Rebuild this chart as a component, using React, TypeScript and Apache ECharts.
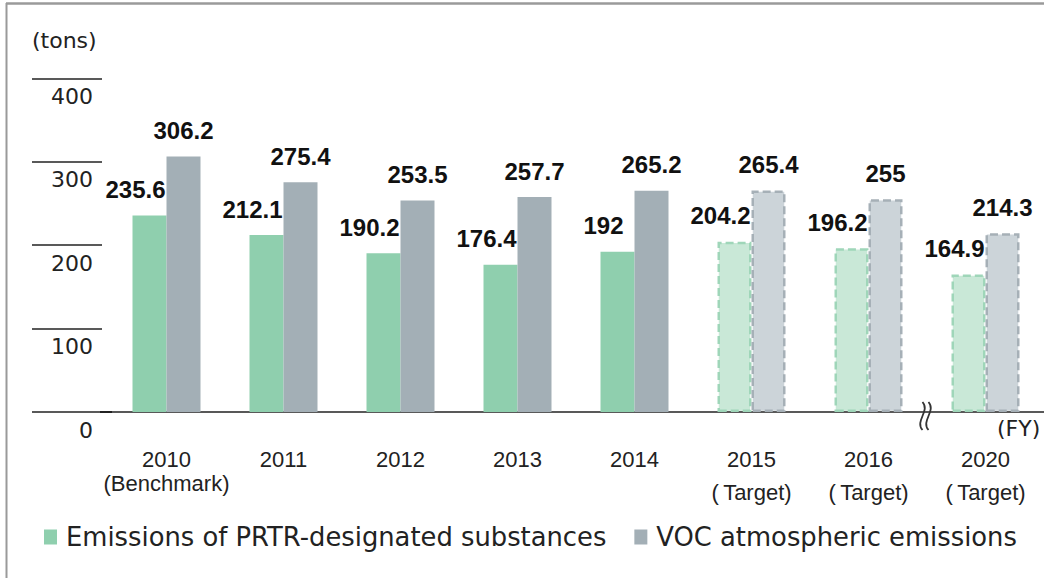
import React, { useEffect, useRef } from 'react';
import * as echarts from 'echarts';

const categories = ['2010', '2011', '2012', '2013', '2014', '2015', '2016', '2020'];
const subLabels = ['(Benchmark)', '', '', '', '', '(\u2009Target)', '(\u2009Target)', '(\u2009Target)'];
const isTarget = [false, false, false, false, false, true, true, true];
const prtr = [235.6, 212.1, 190.2, 176.4, 192, 204.2, 196.2, 164.9];
const voc = [306.2, 275.4, 253.5, 257.7, 265.2, 265.4, 255, 214.3];
const seriesNames = ['Emissions of PRTR-designated substances', 'VOC atmospheric emissions'];
const yMin = 0;
const yMax = 400;
const yStep = 100;
const unitLabel = '(tons)';
const xUnitLabel = '(FY)';

const GREEN = '#8fcfae';
const GREEN_LIGHT = '#c9e8d7';
const GREEN_DASH = '#9fd6b9';
const GRAY = '#a3afb6';
const GRAY_LIGHT = '#ccd4d9';
const GRAY_DASH = '#a6b0b7';
const INK = '#222';

export default function App() {
  const ref = useRef<HTMLDivElement>(null);

  useEffect(() => {
    document.body.style.margin = '0';
    const chart = echarts.init(ref.current!, null, { renderer: 'svg' });

    const labelStyle = {
      show: true,
      position: 'top',
      distance: 14,
      fontFamily: 'Liberation Sans',
      fontWeight: 'bold',
      fontSize: 24,
      color: '#111',
    };

    chart.setOption({
      animation: false,
      grid: { left: 108, top: 78.3, width: 938.7, bottom: 166 },
      legend: {
        left: 44,
        top: 524,
        padding: 0,
        icon: 'rect',
        itemWidth: 13,
        itemHeight: 15,
        itemGap: 28,
        textStyle: { fontFamily: 'DejaVu Sans', fontSize: 25.8, color: INK, padding: [0, 0, 0, 4] },
        data: seriesNames,
      },
      xAxis: {
        type: 'category',
        data: categories,
        axisLine: { lineStyle: { color: INK, width: 1.5 } },
        axisTick: { show: false },
        axisLabel: {
          interval: 0,
          margin: 35,
          color: INK,
          fontFamily: 'Liberation Sans',
          fontSize: 22,
          formatter: (value: string, index: number) => {
            const sub = subLabels[index];
            if (!sub) return `{y|${value}}`;
            return isTarget[index] ? `{y|${value}}\n{t|${sub}}` : `{y|${value}}\n{b|${sub}}`;
          },
          rich: {
            y: { fontFamily: 'Liberation Sans', fontSize: 22, color: INK, lineHeight: 24 },
            b: { fontFamily: 'Liberation Sans', fontSize: 22, color: INK, lineHeight: 24 },
            t: { fontFamily: 'Liberation Sans', fontSize: 22, color: INK, lineHeight: 42 },
          },
        },
      },
      yAxis: {
        type: 'value',
        min: yMin,
        max: yMax,
        interval: yStep,
        offset: 6,
        axisLine: { show: false },
        axisTick: { show: true, length: 70, lineStyle: { color: INK, width: 1.5 } },
        splitLine: { show: false },
        axisLabel: {
          fontFamily: 'DejaVu Sans',
          fontSize: 22,
          lineHeight: 22,
          color: INK,
          margin: 9,
          verticalAlign: 'top',
          padding: [7, 0, 0, 0],
        },
      },
      series: [
        {
          name: seriesNames[0],
          type: 'bar',
          barWidth: 34,
          barGap: '0%',
          itemStyle: { color: GREEN },
          label: { ...labelStyle, offset: [-14, 0] },
          data: prtr.map((v, i) =>
            isTarget[i]
              ? { value: v, itemStyle: { color: GREEN_LIGHT, borderColor: GREEN_DASH, borderWidth: 2.5, borderType: [8, 4] } }
              : v
          ),
        },
        {
          name: seriesNames[1],
          type: 'bar',
          barWidth: 34,
          barGap: '0%',
          itemStyle: { color: GRAY },
          label: { ...labelStyle },
          data: voc.map((v, i) =>
            isTarget[i]
              ? { value: v, itemStyle: { color: GRAY_LIGHT, borderColor: GRAY_DASH, borderWidth: 2.5, borderType: [8, 4] } }
              : v
          ),
        },
      ],
    });

    const y0 = Math.round(chart.convertToPixel({ yAxisIndex: 0 }, yMin) as number);
    const xa = chart.convertToPixel({ xAxisIndex: 0 }, categories[6]) as number;
    const xb = chart.convertToPixel({ xAxisIndex: 0 }, categories[7]) as number;
    const cx = (xa + xb) / 2 - 1.5;
    const squiggle = (x: number) => ({
      type: 'bezierCurve',
      shape: { x1: x, y1: y0 - 10, cpx1: x + 8, cpy1: y0 - 1, cpx2: x - 8, cpy2: y0 + 9, x2: x, y2: y0 + 18 },
      style: { stroke: '#333', lineWidth: 1.8, fill: null },
      z: 100,
    });

    chart.setOption({
      graphic: [
        { type: 'line', shape: { x1: 6, y1: 3.5, x2: 1044, y2: 3.5 }, style: { stroke: '#9a9a9a', lineWidth: 2.5 } },
        { type: 'line', shape: { x1: 6.5, y1: 3, x2: 6.5, y2: 578 }, style: { stroke: '#9a9a9a', lineWidth: 2 } },
        { type: 'line', shape: { x1: 100, y1: y0, x2: 112, y2: y0 }, style: { stroke: INK, lineWidth: 2 } },
        {
          type: 'text',
          x: 32,
          y: 40,
          style: { text: unitLabel, fontFamily: 'DejaVu Sans', fontSize: 22, fill: INK, verticalAlign: 'middle', align: 'left' },
        },
        {
          type: 'text',
          x: 997,
          y: 428,
          style: { text: xUnitLabel, fontFamily: 'DejaVu Sans', fontSize: 22, fill: INK, verticalAlign: 'middle', align: 'left' },
        },
        squiggle(cx - 3),
        squiggle(cx + 3),
      ],
    });

    return () => chart.dispose();
  }, []);

  return <div ref={ref} style={{ width: 1044, height: 578 }} />;
}
